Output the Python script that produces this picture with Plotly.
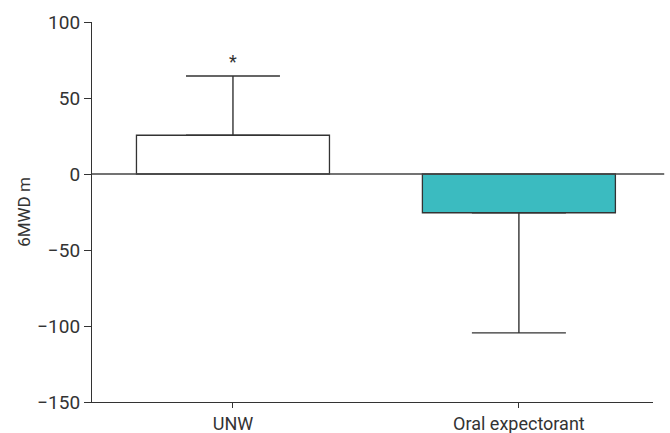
import plotly.graph_objects as go

categories = ["UNW", "Oral expectorant"]
means = [25.5, -25.5]
err_up = [39, 0]
err_down = [0, 79]
fills = ["#FFFFFF", "#3BBBC0"]
y_ticks = [-150, -100, -50, 0, 50, 100]
y_tick_text = ["\u2212150", "\u2212100", "\u221250", "0", "50", "100"]

fig = go.Figure()
for i, cat in enumerate(categories):
    fig.add_trace(go.Bar(
        x=[cat], y=[means[i]], width=0.675,
        marker=dict(color=fills[i], line=dict(color="#333333", width=1.3)),
        error_y=dict(type="data", symmetric=False,
                     array=[err_up[i]], arrayminus=[err_down[i]],
                     color="#333333", thickness=1.4, width=47),
        showlegend=False,
    ))

fig.add_shape(type="line", xref="paper", yref="y", x0=0, x1=1.02, y0=0, y1=0,
              line=dict(color="#444444", width=1.3), layer="above")

fig.add_annotation(x=categories[0], y=74, text="*", showarrow=False,
                   font=dict(size=18, color="#333333"), yanchor="middle")

font_family = "Roboto, Liberation Sans, sans-serif"
fig.update_layout(
    width=670, height=433,
    margin=dict(l=92, r=17, t=22, b=31),
    plot_bgcolor="white", paper_bgcolor="white",
    barmode="overlay",
    font=dict(family=font_family, size=18, color="#333333"),
    xaxis=dict(range=[-0.493, 1.469], showline=True, linecolor="#333333", linewidth=1.2,
               ticks="outside", ticklen=5, tickcolor="#333333", showgrid=False,
               tickfont=dict(size=18), automargin=False),
    yaxis=dict(range=[-150, 100], tickvals=y_ticks, ticktext=y_tick_text,
               showline=True, linecolor="#333333", linewidth=1.2,
               ticks="outside", ticklen=7, tickcolor="#333333", showgrid=False,
               zeroline=False, tickfont=dict(size=19), automargin=False,
               title=dict(text="6MWD m", font=dict(size=17), standoff=2)),
)

fig.write_html("out.html", config={"displayModeBar": False},
               post_script="document.body.style.margin='0';")
